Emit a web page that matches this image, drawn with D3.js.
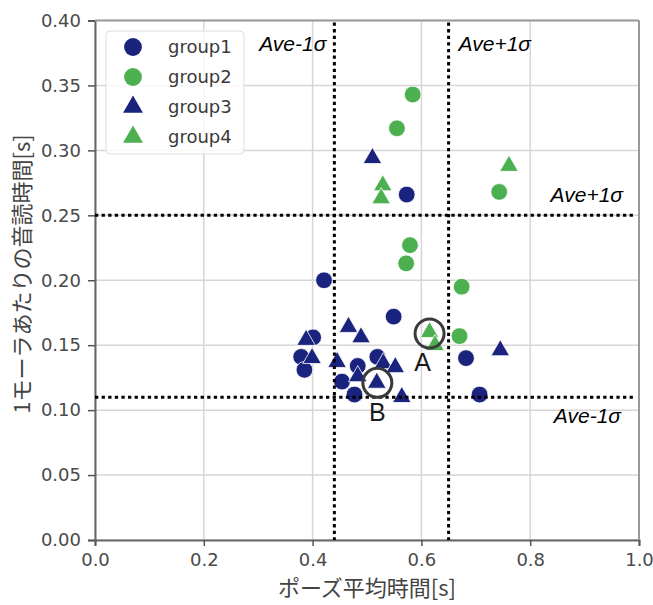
<!DOCTYPE html>
<html>
<meta charset="utf-8">
<script src="https://d3js.org/d3.v7.min.js"></script>
<style>
  body { margin: 0; background: #fff; }
  text { font-family: "DejaVu Sans", sans-serif; }
</style>
<body>
<div id="my_dataviz"></div>
<script>

// data: [pause mean time (s), reading time per mora (s)]
var group1 = [[0.573,0.266],[0.421,0.200],[0.549,0.172],[0.401,0.156],[0.682,0.140],[0.379,0.141],
              [0.385,0.131],[0.483,0.134],[0.519,0.141],[0.454,0.122],[0.477,0.112],[0.707,0.112]];
var group2 = [[0.584,0.343],[0.555,0.317],[0.743,0.268],[0.579,0.227],[0.572,0.213],[0.674,0.195],[0.670,0.157]];
var group3 = [[0.510,0.294],[0.466,0.164],[0.489,0.156],[0.388,0.154],[0.745,0.146],[0.399,0.140],
              [0.445,0.137],[0.483,0.126],[0.530,0.136],[0.552,0.133],[0.518,0.121],[0.564,0.110]];
var group4 = [[0.529,0.273],[0.526,0.263],[0.761,0.288],[0.615,0.160],[0.625,0.150]];

var groupNames = ["group1", "group2", "group3", "group4"];
var xTicks = [0.0, 0.2, 0.4, 0.6, 0.8, 1.0];
var yTicks = [0.00, 0.05, 0.10, 0.15, 0.20, 0.25, 0.30, 0.35, 0.40];
var xSigma = [0.44, 0.65];   // Ave-1σ, Ave+1σ of pause time
var ySigma = [0.11, 0.25];   // Ave-1σ, Ave+1σ of reading time
var marked = [{label: "A", x: 0.615, y: 0.159}, {label: "B", x: 0.519, y: 0.121}];

var groups = [
  {name: groupNames[0], data: group1, color: "#1a237e", shape: "circle"},
  {name: groupNames[1], data: group2, color: "#4caf50", shape: "circle"},
  {name: groupNames[2], data: group3, color: "#1a237e", shape: "triangle"},
  {name: groupNames[3], data: group4, color: "#4caf50", shape: "triangle"}
];

var width = 653, height = 605,
    margin = {top: 20.5, right: 14, bottom: 65, left: 95};

var svg = d3.select("#my_dataviz")
  .append("svg")
    .attr("width", width)
    .attr("height", height);

var x = d3.scaleLinear().domain([0, 1]).range([margin.left, width - margin.right]);
var y = d3.scaleLinear().domain([0, 0.4]).range([height - margin.bottom, margin.top]);

// grid
svg.append("g").selectAll("line").data(xTicks).enter().append("line")
  .attr("x1", function(d) { return x(d); }).attr("x2", function(d) { return x(d); })
  .attr("y1", y(0)).attr("y2", y(0.4))
  .attr("stroke", "#d6d6d6").attr("stroke-width", 1.5);
svg.append("g").selectAll("line").data(yTicks).enter().append("line")
  .attr("y1", function(d) { return y(d); }).attr("y2", function(d) { return y(d); })
  .attr("x1", x(0)).attr("x2", x(1))
  .attr("stroke", "#d6d6d6").attr("stroke-width", 1.5);

// points
var circleSym = d3.symbol().type(d3.symbolCircle).size(220);
var triSym = d3.symbol().type(d3.symbolTriangle).size(150);

groups.forEach(function(g) {
  svg.append("g").selectAll("path")
    .data(g.data)
    .enter()
    .append("path")
      .attr("d", g.shape == "circle" ? circleSym : triSym)
      .attr("transform", function(d) { return "translate(" + x(d[0]) + "," + y(d[1]) + ")"; })
      .attr("fill", g.color)
      .attr("stroke", "#fff")
      .attr("stroke-width", 0.8);
});

// axes
var xAxis = svg.append("g")
  .attr("transform", "translate(0," + y(0) + ")")
  .call(d3.axisBottom(x).tickValues(xTicks).tickSize(6).tickPadding(7).tickFormat(d3.format(".1f")));
var yAxis = svg.append("g")
  .attr("transform", "translate(" + x(0) + ",0)")
  .call(d3.axisLeft(y).tickValues(yTicks).tickSize(7).tickPadding(7).tickFormat(d3.format(".2f")));

[xAxis, yAxis].forEach(function(a) {
  a.select(".domain").attr("stroke", "#666").attr("stroke-width", 2);
  a.selectAll(".tick line").attr("stroke", "#555").attr("stroke-width", 1.5);
  a.selectAll(".tick text").attr("fill", "#4a4a4a").style("font-size", "18px")
    .style("font-family", "DejaVu Sans");
});

// top and right frame
svg.append("line").attr("x1", x(0)).attr("x2", x(1)).attr("y1", y(0.4)).attr("y2", y(0.4))
  .attr("stroke", "#999").attr("stroke-width", 2);
svg.append("line").attr("x1", x(1)).attr("x2", x(1)).attr("y1", y(0.4)).attr("y2", y(0))
  .attr("stroke", "#999").attr("stroke-width", 2);

// sigma lines
svg.append("g").selectAll("line").data(xSigma).enter().append("line")
  .attr("x1", function(d) { return x(d); }).attr("x2", function(d) { return x(d); })
  .attr("y1", y(0.4) + 2).attr("y2", y(0))
  .attr("stroke", "#000").attr("stroke-width", 3).attr("stroke-dasharray", "3.3,3.3");
svg.append("g").selectAll("line").data(ySigma).enter().append("line")
  .attr("y1", function(d) { return y(d); }).attr("y2", function(d) { return y(d); })
  .attr("x1", x(0)).attr("x2", x(1) - 3)
  .attr("stroke", "#000").attr("stroke-width", 3).attr("stroke-dasharray", "3.3,3.3");

var sigmaFont = "Liberation Sans";
svg.append("text").attr("x", x(xSigma[0]) - 8).attr("y", 51).attr("text-anchor", "end")
  .text("Ave-1σ");
svg.append("text").attr("x", x(xSigma[1]) + 10).attr("y", 51)
  .text("Ave+1σ");
svg.append("text").attr("x", x(1) - 16).attr("y", y(ySigma[1]) - 13).attr("text-anchor", "end")
  .text("Ave+1σ");
svg.append("text").attr("x", x(1) - 18).attr("y", y(ySigma[0]) + 26).attr("text-anchor", "end")
  .text("Ave-1σ");
svg.selectAll("text").filter(function() { return this.textContent.indexOf("Ave") == 0; })
  .style("font-family", sigmaFont).style("font-style", "italic").style("font-size", "21px")
  .attr("fill", "#000");

// marked points A and B
var mk = svg.append("g").selectAll("g").data(marked).enter().append("g");
mk.append("circle")
  .attr("cx", function(d) { return x(d.x); })
  .attr("cy", function(d) { return y(d.y); })
  .attr("r", 14.5)
  .attr("fill", "none")
  .attr("stroke", "#3a3a3a")
  .attr("stroke-width", 3);
mk.append("text")
  .attr("x", function(d) { return x(d.x) + (d.label == "A" ? -7 : 0); })
  .attr("y", function(d) { return y(d.y) + 38; })
  .attr("text-anchor", "middle")
  .style("font-family", "Liberation Sans")
  .style("font-size", "25px")
  .attr("fill", "#1a1a1a")
  .text(function(d) { return d.label; });

// legend
var lg = svg.append("g");
lg.append("rect")
  .attr("x", 106).attr("y", 31).attr("width", 138).attr("height", 123).attr("rx", 4)
  .attr("fill", "#fff").attr("fill-opacity", 0.8)
  .attr("stroke", "#ddd").attr("stroke-width", 1);
var legCircle = d3.symbol().type(d3.symbolCircle).size(250);
var legTri = d3.symbol().type(d3.symbolTriangle).size(170);
groups.forEach(function(g, i) {
  var ly = 47 + i * 30;
  lg.append("path")
    .attr("d", g.shape == "circle" ? legCircle : legTri)
    .attr("transform", "translate(133," + ly + ")")
    .attr("fill", g.color);
  lg.append("text")
    .attr("x", 168).attr("y", ly + 6)
    .style("font-size", "18px")
    .attr("fill", "#3a3a3a")
    .text(g.name);
});

// axis titles
svg.append("text")
  .attr("x", (x(0) + x(1)) / 2).attr("y", 596)
  .attr("text-anchor", "middle")
  .style("font-family", "Noto Sans CJK JP")
  .style("font-size", "22px")
  .attr("fill", "#444")
  .text("ポーズ平均時間[s]");
svg.append("text")
  .attr("transform", "translate(20," + 274 + ") rotate(-90)")
  .attr("text-anchor", "middle")
  .attr("dominant-baseline", "central")
  .style("font-family", "Noto Sans CJK JP")
  .style("font-size", "22px")
  .attr("fill", "#444")
  .text("1モーラあたりの音読時間[s]");

</script>
</body>
</html>
